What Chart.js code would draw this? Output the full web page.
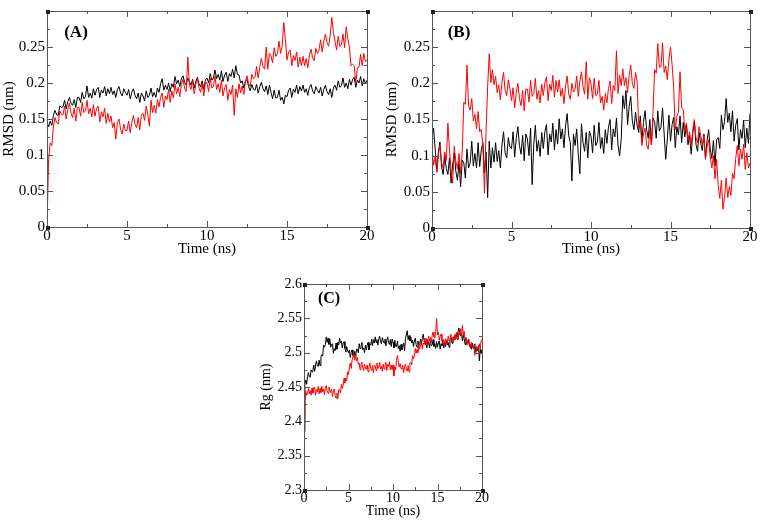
<!DOCTYPE html>
<html>
<head>
<meta charset="utf-8">
<script src="https://cdn.jsdelivr.net/npm/chart.js@4.4.1/dist/chart.umd.min.js"></script>
<style>
  html, body { margin:0; padding:0; background:#fff; }
  #wrap { position:relative; width:761px; height:520px; overflow:hidden; background:#fff; }
  canvas { position:absolute; }
</style>
</head>
<body>
<div id="wrap">
  <canvas id="chartA" width="375" height="258" style="left:0px;top:0px"></canvas>
  <canvas id="chartB" width="381" height="258" style="left:380px;top:0px"></canvas>
  <canvas id="chartC" width="240" height="250" style="left:255px;top:270px"></canvas>
</div>
<script>
// sampling interval of the traces (ns); every series below has one value per step, 0..20 ns
const DT = 0.1;

// ---- (A) RMSD ----
const aBlack = [
  0.146,0.139,0.147,0.141,0.155,0.162,0.156,0.155,0.168,0.166,
  0.167,0.176,0.164,0.174,0.180,0.172,0.169,0.177,0.166,0.180,
  0.180,0.173,0.187,0.178,0.181,0.196,0.180,0.186,0.179,0.192,
  0.183,0.191,0.194,0.180,0.190,0.186,0.195,0.182,0.192,0.185,
  0.194,0.184,0.189,0.180,0.191,0.195,0.186,0.182,0.192,0.187,
  0.183,0.191,0.178,0.187,0.192,0.183,0.178,0.186,0.173,0.186,
  0.182,0.175,0.189,0.180,0.183,0.193,0.181,0.187,0.180,0.193,
  0.187,0.199,0.206,0.190,0.197,0.191,0.200,0.188,0.199,0.194,
  0.209,0.199,0.204,0.195,0.206,0.210,0.201,0.197,0.207,0.202,
  0.197,0.205,0.193,0.202,0.208,0.199,0.195,0.203,0.191,0.204,
  0.207,0.200,0.213,0.204,0.207,0.218,0.206,0.212,0.204,0.217,
  0.202,0.211,0.215,0.202,0.213,0.209,0.219,0.207,0.224,0.212,
  0.211,0.200,0.203,0.193,0.202,0.205,0.195,0.189,0.198,0.191,
  0.190,0.198,0.186,0.195,0.201,0.192,0.188,0.196,0.184,0.197,
  0.187,0.178,0.190,0.179,0.180,0.190,0.176,0.180,0.171,0.183,
  0.181,0.190,0.193,0.180,0.191,0.187,0.197,0.185,0.195,0.189,
  0.197,0.187,0.192,0.183,0.194,0.198,0.189,0.185,0.195,0.190,
  0.186,0.194,0.182,0.191,0.197,0.188,0.184,0.192,0.180,0.193,
  0.197,0.190,0.203,0.194,0.196,0.207,0.194,0.200,0.192,0.205,
  0.197,0.205,0.208,0.194,0.204,0.200,0.209,0.196,0.206,0.199,
  0.204
];
const aRed = [
  0.000,0.094,0.117,0.113,0.139,0.152,0.145,0.143,0.161,0.156,
  0.156,0.168,0.150,0.163,0.172,0.158,0.152,0.165,0.147,0.166,
  0.166,0.154,0.173,0.159,0.161,0.176,0.157,0.165,0.153,0.170,
  0.154,0.165,0.168,0.146,0.160,0.153,0.165,0.144,0.158,0.146,
  0.154,0.138,0.145,0.122,0.145,0.150,0.136,0.129,0.143,0.134,
  0.134,0.147,0.131,0.145,0.155,0.143,0.138,0.152,0.135,0.156,
  0.158,0.148,0.168,0.156,0.140,0.176,0.159,0.169,0.158,0.177,
  0.167,0.180,0.186,0.166,0.182,0.177,0.191,0.173,0.189,0.179,
  0.199,0.185,0.194,0.181,0.198,0.205,0.193,0.188,0.236,0.197,
  0.191,0.203,0.185,0.198,0.207,0.193,0.187,0.200,0.182,0.201,
  0.200,0.188,0.207,0.193,0.195,0.210,0.191,0.199,0.187,0.204,
  0.182,0.193,0.198,0.176,0.191,0.184,0.197,0.155,0.192,0.180,
  0.199,0.186,0.196,0.184,0.202,0.210,0.199,0.195,0.212,0.206,
  0.208,0.223,0.207,0.223,0.234,0.223,0.219,0.250,0.219,0.241,
  0.238,0.228,0.249,0.237,0.241,0.258,0.241,0.251,0.284,0.260,
  0.232,0.243,0.246,0.224,0.238,0.231,0.243,0.222,0.236,0.224,
  0.237,0.224,0.234,0.221,0.239,0.247,0.235,0.231,0.248,0.241,
  0.246,0.260,0.243,0.258,0.268,0.256,0.251,0.266,0.291,0.270,
  0.258,0.246,0.265,0.251,0.253,0.268,0.249,0.278,0.262,0.250,
  0.224,0.226,0.224,0.200,0.221,0.222,0.240,0.224,0.241,0.230,
  0.232
];

// ---- (B) RMSD ----
const bBlack = [
  0.125,0.138,0.109,0.078,0.105,0.119,0.085,0.074,0.099,0.082,
  0.074,0.097,0.062,0.088,0.104,0.078,0.066,0.092,0.057,0.094,
  0.090,0.069,0.109,0.083,0.090,0.120,0.086,0.103,0.083,0.118,
  0.085,0.108,0.118,0.076,0.105,0.042,0.120,0.083,0.111,0.091,
  0.118,0.092,0.107,0.083,0.115,0.133,0.104,0.097,0.125,0.112,
  0.110,0.133,0.098,0.124,0.140,0.114,0.102,0.128,0.093,0.130,
  0.123,0.100,0.138,0.060,0.115,0.142,0.106,0.121,0.099,0.132,
  0.110,0.133,0.143,0.101,0.130,0.119,0.145,0.108,0.136,0.116,
  0.151,0.123,0.137,0.111,0.141,0.158,0.127,0.118,0.065,0.130,
  0.114,0.137,0.102,0.075,0.144,0.118,0.106,0.132,0.097,0.134,
  0.127,0.104,0.142,0.114,0.119,0.146,0.110,0.125,0.103,0.136,
  0.117,0.140,0.150,0.108,0.137,0.126,0.152,0.115,0.100,0.123,
  0.183,0.165,0.190,0.143,0.168,0.182,0.148,0.136,0.160,0.142,
  0.132,0.155,0.120,0.146,0.162,0.136,0.124,0.150,0.115,0.152,
  0.147,0.124,0.162,0.134,0.139,0.166,0.130,0.095,0.123,0.156,
  0.120,0.143,0.153,0.111,0.140,0.129,0.155,0.118,0.146,0.126,
  0.143,0.115,0.128,0.102,0.131,0.147,0.116,0.106,0.132,0.117,
  0.107,0.130,0.095,0.121,0.136,0.109,0.096,0.121,0.086,0.122,
  0.125,0.110,0.156,0.136,0.147,0.179,0.146,0.159,0.133,0.162,
  0.120,0.142,0.151,0.108,0.136,0.124,0.149,0.111,0.138,0.117,
  0.158
];
const bRed = [
  0.110,0.087,0.098,0.077,0.101,0.115,0.090,0.083,0.105,0.093,
  0.145,0.107,0.079,0.062,0.113,0.092,0.082,0.103,0.075,0.105,
  0.174,0.171,0.225,0.169,0.163,0.179,0.148,0.157,0.137,0.161,
  0.133,0.136,0.114,0.048,0.134,0.195,0.241,0.201,0.219,0.198,
  0.210,0.187,0.198,0.177,0.201,0.215,0.190,0.183,0.205,0.193,
  0.176,0.194,0.166,0.187,0.200,0.179,0.169,0.190,0.162,0.192,
  0.192,0.174,0.204,0.182,0.186,0.207,0.178,0.190,0.173,0.199,
  0.183,0.201,0.209,0.176,0.199,0.190,0.211,0.181,0.204,0.188,
  0.205,0.182,0.193,0.172,0.196,0.210,0.185,0.178,0.200,0.188,
  0.192,0.210,0.182,0.203,0.216,0.195,0.185,0.230,0.178,0.208,
  0.199,0.179,0.207,0.183,0.185,0.204,0.173,0.182,0.163,0.186,
  0.173,0.193,0.203,0.172,0.197,0.190,0.245,0.186,0.211,0.197,
  0.220,0.197,0.208,0.187,0.211,0.225,0.200,0.193,0.215,0.203,
  0.139,0.147,0.114,0.130,0.138,0.115,0.109,0.136,0.115,0.160,
  0.219,0.214,0.255,0.222,0.223,0.256,0.215,0.224,0.205,0.233,
  0.250,0.226,0.194,0.136,0.154,0.160,0.216,0.166,0.164,0.133,
  0.145,0.122,0.133,0.112,0.136,0.150,0.125,0.118,0.140,0.128,
  0.114,0.128,0.096,0.113,0.122,0.097,0.083,0.100,0.068,0.095,
  0.059,0.041,0.066,0.026,0.043,0.069,0.042,0.057,0.045,0.076,
  0.068,0.096,0.114,0.086,0.109,0.095,0.116,0.081,0.104,0.083,
  0.090
];

// ---- (C) Rg ----
const cBlack = [
  2.385,2.454,2.460,2.454,2.465,2.471,2.465,2.464,2.475,2.472,
  2.474,2.482,2.473,2.482,2.488,2.481,2.480,2.489,2.481,2.494,
  2.497,2.495,2.511,2.508,2.512,2.523,2.515,2.521,2.512,2.520,
  2.508,2.512,2.513,2.499,2.506,2.503,2.514,2.505,2.515,2.511,
  2.521,2.514,2.517,2.507,2.514,2.516,2.506,2.501,2.509,2.502,
  2.500,2.504,2.493,2.500,2.504,2.496,2.494,2.502,2.493,2.505,
  2.505,2.500,2.513,2.506,2.508,2.515,2.504,2.507,2.500,2.511,
  2.504,2.511,2.515,2.504,2.513,2.511,2.520,2.510,2.519,2.514,
  2.523,2.515,2.519,2.511,2.520,2.524,2.516,2.513,2.522,2.517,
  2.514,2.520,2.510,2.518,2.523,2.515,2.512,2.519,2.509,2.520,
  2.515,2.507,2.518,2.509,2.509,2.517,2.506,2.510,2.502,2.512,
  2.504,2.510,2.514,2.503,2.521,2.526,2.532,2.519,2.525,2.517,
  2.523,2.514,2.518,2.509,2.517,2.521,2.512,2.508,2.517,2.511,
  2.512,2.520,2.512,2.522,2.527,2.517,2.512,2.517,2.507,2.518,
  2.514,2.507,2.518,2.510,2.511,2.519,2.509,2.513,2.506,2.516,
  2.508,2.514,2.517,2.505,2.513,2.510,2.518,2.507,2.515,2.509,
  2.518,2.511,2.515,2.508,2.518,2.522,2.515,2.513,2.523,2.519,
  2.520,2.528,2.520,2.530,2.536,2.529,2.524,2.529,2.517,2.526,
  2.520,2.512,2.522,2.513,2.513,2.520,2.509,2.512,2.505,2.514,
  2.506,2.511,2.513,2.500,2.507,2.503,2.510,2.488,2.505,2.498,
  2.505
];
const cRed = [
  2.405,2.430,2.444,2.438,2.440,2.449,2.440,2.445,2.438,2.449,
  2.441,2.447,2.450,2.438,2.446,2.443,2.451,2.440,2.448,2.442,
  2.451,2.443,2.447,2.439,2.448,2.452,2.444,2.441,2.450,2.445,
  2.442,2.447,2.436,2.443,2.447,2.438,2.434,2.441,2.433,2.446,
  2.446,2.441,2.454,2.448,2.452,2.463,2.456,2.463,2.459,2.472,
  2.468,2.478,2.485,2.477,2.489,2.489,2.499,2.489,2.496,2.488,
  2.493,2.483,2.485,2.475,2.483,2.486,2.478,2.474,2.483,2.477,
  2.476,2.482,2.472,2.480,2.485,2.477,2.474,2.481,2.471,2.482,
  2.481,2.474,2.485,2.477,2.478,2.486,2.476,2.480,2.473,2.483,
  2.476,2.482,2.486,2.474,2.483,2.480,2.487,2.475,2.482,2.475,
  2.482,2.466,2.479,2.475,2.489,2.496,2.486,2.479,2.484,2.477,
  2.476,2.482,2.471,2.479,2.483,2.475,2.473,2.481,2.472,2.485,
  2.486,2.482,2.496,2.491,2.495,2.506,2.499,2.505,2.500,2.512,
  2.505,2.512,2.516,2.505,2.514,2.512,2.521,2.511,2.520,2.515,
  2.524,2.517,2.522,2.515,2.525,2.530,2.523,2.521,2.531,2.550,
  2.526,2.530,2.518,2.524,2.527,2.517,2.513,2.519,2.509,2.520,
  2.519,2.513,2.524,2.517,2.518,2.527,2.517,2.522,2.515,2.526,
  2.519,2.526,2.530,2.519,2.528,2.526,2.535,2.525,2.540,2.525,
  2.531,2.520,2.521,2.511,2.518,2.520,2.511,2.507,2.515,2.509,
  2.507,2.510,2.496,2.502,2.509,2.504,2.504,2.513,2.505,2.518,
  2.518
];

// axis ticks
const xMajor = [0, 5, 10, 15, 20];
const xMinor = [2.5, 7.5, 12.5, 17.5];
const rmsdLabelled = [0, 0.05, 0.1, 0.15, 0.2, 0.25];
const rmsdMajor = [0, 0.05, 0.1, 0.15, 0.2, 0.25, 0.3];
const rmsdMinor = [0.025, 0.075, 0.125, 0.175, 0.225, 0.275];
const rgLabelled = [2.3, 2.35, 2.4, 2.45, 2.5, 2.55, 2.6];
const rgMinor = [2.325, 2.375, 2.425, 2.475, 2.525, 2.575];

const SERIF = "'Liberation Serif', 'Times New Roman', serif";
const el = (id) => document.getElementById(id);
const toXY = (arr) => arr.map((v, i) => ({ x: +(i * DT).toFixed(1), y: v }));
const fmt = (v) => String(+Number(v).toFixed(3));

function makeDeco(cfg){
  return {
    id: "deco_" + cfg.tag,
    afterDraw(chart){
      const { ctx, chartArea: a, scales: { x, y } } = chart;
      const p = (v) => Math.round(v) + 0.5;
      ctx.save();
      ctx.strokeStyle = "#555";
      ctx.lineWidth = 1;
      ctx.beginPath();
      const xt = (vals, len) => vals.forEach(v => {
        const X = p(x.getPixelForValue(v));
        ctx.moveTo(X, a.bottom); ctx.lineTo(X, a.bottom - len);
        ctx.moveTo(X, a.top); ctx.lineTo(X, a.top + len);
      });
      const yt = (vals, len) => vals.forEach(v => {
        const Y = p(y.getPixelForValue(v));
        ctx.moveTo(a.left, Y); ctx.lineTo(a.left + len, Y);
        ctx.moveTo(a.right, Y); ctx.lineTo(a.right - len, Y);
      });
      xt(xMajor, 6); xt(xMinor, 3);
      yt(cfg.yMajor, 6); yt(cfg.yMinor, 3);
      ctx.stroke();
      ctx.strokeRect(p(a.left), p(a.top), Math.round(a.right - a.left), Math.round(a.bottom - a.top));
      // little squares on the frame corners
      ctx.fillStyle = "#222";
      [[a.left, a.top], [a.right, a.top], [a.left, a.bottom], [a.right, a.bottom]].forEach(([cx, cy]) => {
        ctx.fillRect(Math.round(cx) - 1, Math.round(cy) - 1, 4, 4);
      });
      // panel tag
      ctx.fillStyle = "#000";
      ctx.font = "bold " + cfg.tagSize + "px " + SERIF;
      ctx.textAlign = "center";
      ctx.textBaseline = "middle";
      ctx.fillText(cfg.tag, a.left + cfg.tagDx, a.top + cfg.tagDy);
      ctx.restore();
    }
  };
}

function makePanel(id, cfg){
  const font = { family: SERIF, size: cfg.fontSize };
  const tickFont = { family: SERIF, size: cfg.tickSize };
  return new Chart(el(id), {
    type: "line",
    data: {
      datasets: [
        { data: toXY(cfg.red), borderColor: "#ff0000", borderWidth: 1, pointRadius: 0, tension: 0 },
        { data: toXY(cfg.black), borderColor: "#000000", borderWidth: 1, pointRadius: 0, tension: 0 }
      ]
    },
    options: {
      responsive: false,
      animation: false,
      events: [],
      layout: { padding: { top: cfg.top, right: cfg.right, left: 0, bottom: 0 } },
      plugins: { legend: { display: false }, tooltip: { enabled: false } },
      scales: {
        x: {
          type: "linear", min: 0, max: 20,
          afterBuildTicks: (s) => { s.ticks = xMajor.map(v => ({ value: v })); },
          afterFit: (s) => { s.height = cfg.xh; },
          grid: { display: false, drawTicks: false },
          border: { display: false },
          ticks: { font: tickFont, color: "#000", padding: 0, maxRotation: 0, autoSkip: false, callback: fmt },
          title: { display: true, text: "Time (ns)", font, color: "#000", padding: 0 }
        },
        y: {
          type: "linear", min: cfg.yMin, max: cfg.yMax,
          afterBuildTicks: (s) => { s.ticks = cfg.yLabels.map(v => ({ value: v })); },
          afterFit: (s) => { s.width = cfg.yw; },
          grid: { display: false, drawTicks: false },
          border: { display: false },
          ticks: { font: tickFont, color: "#000", padding: 2, autoSkip: false, callback: fmt },
          title: { display: true, text: cfg.yTitle, font, color: "#000", padding: { top: cfg.yTitlePad, bottom: 0 } }
        }
      }
    },
    plugins: [makeDeco(cfg)]
  });
}

makePanel("chartA", {
  tag: "(A)", tagSize: 17, tagDx: 29, tagDy: 22,
  red: aRed, black: aBlack,
  yMin: 0, yMax: 0.3, yLabels: rmsdLabelled, yMajor: rmsdMajor, yMinor: rmsdMinor,
  yTitle: "RMSD (nm)", yTitlePad: 0,
  fontSize: 15, tickSize: 15, yw: 47, xh: 31, top: 4, right: 8
});

makePanel("chartB", {
  tag: "(B)", tagSize: 17, tagDx: 27, tagDy: 22,
  red: bRed, black: bBlack,
  yMin: 0, yMax: 0.3, yLabels: rmsdLabelled, yMajor: rmsdMajor, yMinor: rmsdMinor,
  yTitle: "RMSD (nm)", yTitlePad: 3,
  fontSize: 15, tickSize: 15, yw: 52, xh: 30, top: 4, right: 11
});

makePanel("chartC", {
  tag: "(C)", tagSize: 16, tagDx: 25, tagDy: 15,
  red: cRed, black: cBlack,
  yMin: 2.3, yMax: 2.6, yLabels: rgLabelled, yMajor: rgLabelled, yMinor: rgMinor,
  yTitle: "Rg (nm)", yTitlePad: 3,
  fontSize: 14, tickSize: 14, yw: 49, xh: 30, top: 14, right: 13
});
</script>
</body>
</html>
